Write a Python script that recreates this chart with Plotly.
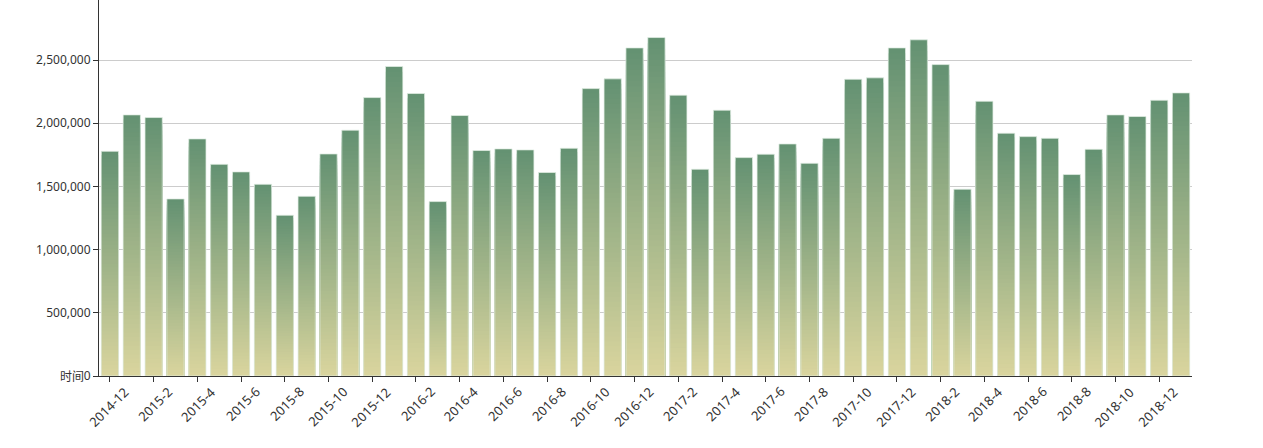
import plotly.graph_objects as go

months = [
    "2014-12",
    "2015-1", "2015-2", "2015-3", "2015-4", "2015-5", "2015-6",
    "2015-7", "2015-8", "2015-9", "2015-10", "2015-11", "2015-12",
    "2016-1", "2016-2", "2016-3", "2016-4", "2016-5", "2016-6",
    "2016-7", "2016-8", "2016-9", "2016-10", "2016-11", "2016-12",
    "2017-1", "2017-2", "2017-3", "2017-4", "2017-5", "2017-6",
    "2017-7", "2017-8", "2017-9", "2017-10", "2017-11", "2017-12",
    "2018-1", "2018-2", "2018-3", "2018-4", "2018-5", "2018-6",
    "2018-7", "2018-8", "2018-9", "2018-10", "2018-11", "2018-12",
    "2019-1",
]

visitors = [
    1778000,
    2066000, 2045000, 1401000, 1876000, 1675000, 1615000,
    1517000, 1272000, 1422000, 1757000, 1945000, 2203000,
    2449000, 2235000, 1380000, 2061000, 1784000, 1797000,
    1789000, 1610000, 1802000, 2274000, 2351000, 2596000,
    2678000, 2222000, 1636000, 2103000, 1728000, 1755000,
    1836000, 1683000, 1881000, 2348000, 2359000, 2596000,
    2660000, 2464000, 1478000, 2174000, 1921000, 1894000,
    1881000, 1594000, 1794000, 2066000, 2053000, 2182000,
    2240000,
]

y_tick_values = [0, 500000, 1000000, 1500000, 2000000, 2500000]
x_tick_labels = months[::2]

TOP = (99, 145, 114)
BOTTOM = (218, 213, 158)
N = 60


def mix(t):
    return "rgb(%d,%d,%d)" % tuple(round(b + (a - b) * t) for a, b in zip(TOP, BOTTOM))


fig = go.Figure()
for i in range(N):
    frac = (N - i) / N
    fig.add_bar(
        x=months,
        y=[v * frac for v in visitors],
        marker=dict(color=mix((N - i - 0.5) / N), line=dict(width=0)),
        hoverinfo="skip",
        showlegend=False,
    )
fig.add_bar(
    x=months,
    y=visitors,
    name="人数",
    marker=dict(color="rgba(0,0,0,0)", line=dict(color="rgba(225,238,228,0.75)", width=1)),
    showlegend=False,
)

font_family = "Noto Sans, Noto Sans CJK SC, sans-serif"

fig.update_layout(
    width=1263,
    height=448,
    barmode="overlay",
    bargap=0.21,
    plot_bgcolor="white",
    paper_bgcolor="white",
    margin=dict(l=99, r=71, t=0, b=72),
    font=dict(family=font_family, size=12, color="#333"),
    xaxis=dict(
        type="category",
        range=[-0.5, len(months) - 0.5],
        autorange=False,
        tickmode="array",
        tickvals=x_tick_labels,
        showticklabels=False,
        ticks="outside",
        ticklen=5,
        tickcolor="#333",
        showline=True,
        linecolor="#333",
        linewidth=1,
        showgrid=False,
    ),
    yaxis=dict(
        range=[0, 2975000],
        autorange=False,
        tickmode="array",
        tickvals=y_tick_values,
        tickformat=",d",
        ticks="outside",
        ticklen=5,
        tickcolor="#333",
        showline=True,
        linecolor="#333",
        linewidth=1,
        showgrid=True,
        gridcolor="#ccc",
        gridwidth=1,
        zeroline=False,
        tickfont=dict(size=12, color="#333"),
    ),
)

for lab in x_tick_labels:
    fig.add_annotation(
        text=lab,
        xref="x", yref="paper",
        x=lab, y=0,
        xanchor="right", yanchor="top",
        xshift=25, yshift=-4,
        textangle=-45,
        showarrow=False,
        font=dict(size=13, color="#333", family=font_family),
    )

fig.add_annotation(
    text="时间",
    xref="paper", yref="paper",
    x=0, y=0,
    xshift=-13,
    xanchor="right", yanchor="middle",
    showarrow=False,
    font=dict(size=12, color="#333", family=font_family),
)
fig.add_annotation(
    text="(人)",
    xref="paper", yref="paper",
    x=0, y=1,
    xshift=-40, yshift=13,
    xanchor="center", yanchor="bottom",
    showarrow=False,
    font=dict(size=12, color="#333", family=font_family),
)

fig.write_html("out.html")
